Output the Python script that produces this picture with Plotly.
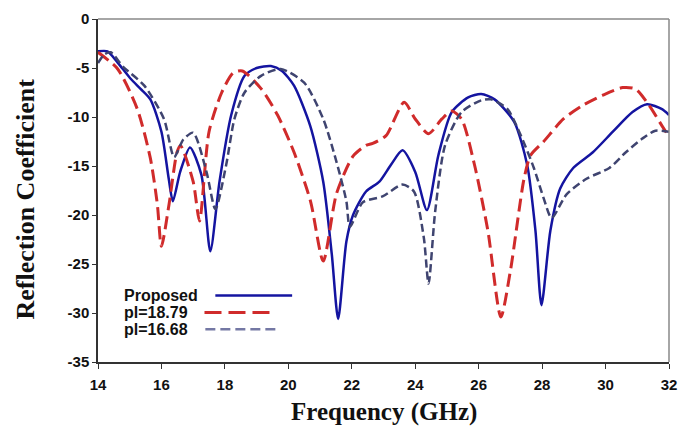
import plotly.graph_objects as go

# ---- data ----
freq_proposed = [14.0, 14.3, 14.62, 15.03, 15.35, 15.65, 16.0, 16.23, 16.36, 16.59, 16.9, 17.26, 17.54,
                 17.83, 18.2, 18.62, 19.0, 19.45, 19.8, 20.18, 20.69, 21.1, 21.37, 21.57, 21.83, 22.04,
                 22.45, 22.87, 23.23, 23.6, 24.0, 24.37, 24.73, 25.15, 25.67, 26.08, 26.5, 27.12, 27.53,
                 27.79, 27.98, 28.26, 28.57, 28.98, 29.6, 30.23, 30.85, 31.31, 31.78, 32.0]
s11_proposed = [-3.3, -3.3, -4.45, -6.1, -7.15, -8.2, -11.5, -16.3, -18.6, -15.6, -13.1, -15.9, -23.7,
                -16.6, -9.8, -5.8, -5.0, -4.8, -5.3, -6.8, -10.9, -16.6, -24.0, -30.6, -22.7, -20.0,
                -17.6, -16.6, -14.9, -13.4, -15.6, -19.5, -13.9, -9.5, -8.0, -7.65, -8.2, -10.5, -14.9,
                -21.6, -29.2, -21.6, -17.3, -15.2, -13.6, -11.5, -9.5, -8.7, -9.2, -9.8]

freq_pl1879 = [14.0, 14.62, 15.24, 15.65, 15.87, 16.0, 16.24, 16.49, 16.6, 17.0, 17.2, 17.5, 17.9,
               18.26, 18.55, 19.14, 19.66, 20.18, 20.7, 21.1, 21.52, 22.04, 22.45, 22.66, 23.08, 23.65,
               24.0, 24.42, 24.84, 25.15, 25.46, 25.87, 26.29, 26.7, 27.0, 27.43, 27.64, 28.05, 28.67,
               29.29, 29.9, 30.54, 30.95, 31.37, 31.78, 32.0]
s11_pl1879 = [-3.4, -5.1, -9.2, -14.2, -18.9, -23.2, -18.9, -13.6, -12.9, -16.6, -20.6, -11.5, -7.5,
              -5.5, -5.3, -7.1, -9.8, -13.6, -18.6, -24.7, -17.8, -14.0, -12.9, -12.7, -11.9, -8.5,
              -10.2, -11.7, -10.2, -9.4, -10.2, -14.9, -21.6, -30.4, -25.7, -16.3, -13.9, -12.5, -10.2,
              -8.8, -7.8, -7.0, -7.15, -8.8, -10.9, -12.0]

freq_pl1668 = [14.0, 14.2, 14.4, 14.8, 15.46, 16.08, 16.4, 16.69, 17.0, 17.42, 17.7, 18.04, 18.3,
               18.62, 19.14, 19.76, 20.5, 21.1, 21.52, 21.83, 21.94, 22.35, 22.97, 23.6, 23.96, 24.27,
               24.42, 24.63, 24.94, 25.46, 26.08, 26.39, 26.91, 27.33, 27.74, 28.05, 28.3, 28.77,
               29.4, 30.12, 30.64, 31.16, 31.57, 32.0]
s11_pl1668 = [-4.5, -3.6, -3.4, -4.9, -6.8, -10.2, -14.1, -12.3, -11.6, -15.6, -19.4, -14.9, -10.2,
              -7.5, -5.8, -5.1, -6.5, -10.2, -14.6, -18.6, -21.2, -18.7, -18.1, -16.9, -17.6, -22.3,
              -27.0, -19.6, -12.9, -9.5, -8.3, -8.2, -9.2, -11.9, -15.2, -18.3, -20.3, -17.9,
              -16.3, -15.2, -13.6, -12.2, -11.4, -11.5]

series_names = ["Proposed", "pl=18.79", "pl=16.68"]
x_ticks = [14, 16, 18, 20, 22, 24, 26, 28, 30, 32]
y_ticks = [0, -5, -10, -15, -20, -25, -30, -35]

BLUE = "#1414A0"
RED = "#D02B2B"
GREY = "#3F4470"
GREY_LEG = "#7478A4"

fig = go.Figure()
fig.add_trace(go.Scatter(x=freq_proposed, y=s11_proposed, mode="lines", name=series_names[0],
                         line=dict(color=BLUE, width=2.5, shape="spline", smoothing=0.7)))
fig.add_trace(go.Scatter(x=freq_pl1879, y=s11_pl1879, mode="lines", name=series_names[1],
                         line=dict(color=RED, width=3, dash="13px,6px", shape="spline", smoothing=0.7)))
fig.add_trace(go.Scatter(x=freq_pl1668, y=s11_pl1668, mode="lines", name=series_names[2],
                         line=dict(color=GREY, width=2.5, dash="8px,4px", shape="spline", smoothing=0.7)))

tickfont = dict(family="Liberation Sans, Arial", size=15, color="#111111", weight="bold")

fig.update_layout(
    width=687, height=434,
    margin=dict(l=98, r=10, t=16, b=72),
    paper_bgcolor="white", plot_bgcolor="white",
    showlegend=False,
    xaxis=dict(range=[14, 32], tickvals=x_ticks, ticktext=[str(v) for v in x_ticks],
               showgrid=False, zeroline=False, showline=True, linecolor="#333333", linewidth=1.5,
               ticks="outside", ticklen=5, tickcolor="#333333", tickfont=tickfont,
               ticklabelstandoff=3),
    yaxis=dict(range=[-35, 0], tickvals=y_ticks, ticktext=[str(v) for v in y_ticks],
               showgrid=False, zeroline=False, showline=True, linecolor="#333333", linewidth=1.5,
               ticks="outside", ticklen=4, tickcolor="#333333", tickfont=tickfont),
)

# grey top / right frame
fig.add_shape(type="line", xref="paper", yref="paper", x0=0, x1=1, y0=1, y1=1,
              line=dict(color="#888888", width=1.5))
fig.add_shape(type="line", xref="paper", yref="paper", x0=1, x1=1, y0=0, y1=1,
              line=dict(color="#888888", width=1.5))

# axis titles
fig.add_annotation(text="<b>Frequency (GHz)</b>", xref="paper", yref="paper", x=0.5, y=0,
                   xanchor="center", yanchor="middle", yshift=-50, showarrow=False,
                   font=dict(family="Liberation Serif, Times New Roman", size=25, color="#111111"))
fig.add_annotation(text="<b>Reflection Coefficient</b>", xref="paper", yref="paper", x=0, y=0.5,
                   xanchor="center", yanchor="middle", xshift=-73, yshift=-9, textangle=-90,
                   showarrow=False,
                   font=dict(family="Liberation Serif, Times New Roman", size=26, color="#111111"))

# custom legend (text left, line sample right)
leg_y = [0.1936, 0.1445, 0.0954]
leg_lines = [(0.2055, 0.340, BLUE, "solid", 2.5),
             (0.1865, 0.3005, RED, "17px,7px", 3),
             (0.188, 0.314, GREY_LEG, "10px,5px", 2.5)]
for name, yy, (xa, xb, col, dash, w) in zip(series_names, leg_y, leg_lines):
    fig.add_annotation(text="<b>%s</b>" % name, xref="paper", yref="paper", x=0.0415, y=yy,
                       xanchor="left", yanchor="middle", showarrow=False,
                       font=dict(family="Liberation Sans, Arial", size=16, color="#111111"))
    fig.add_shape(type="line", xref="paper", yref="paper", x0=xa, x1=xb, y0=yy, y1=yy,
                  line=dict(color=col, width=w, dash=dash))

fig.write_html("out.html", config={"displayModeBar": False},
               post_script="document.body.style.margin='0';document.body.style.overflow='hidden';")
